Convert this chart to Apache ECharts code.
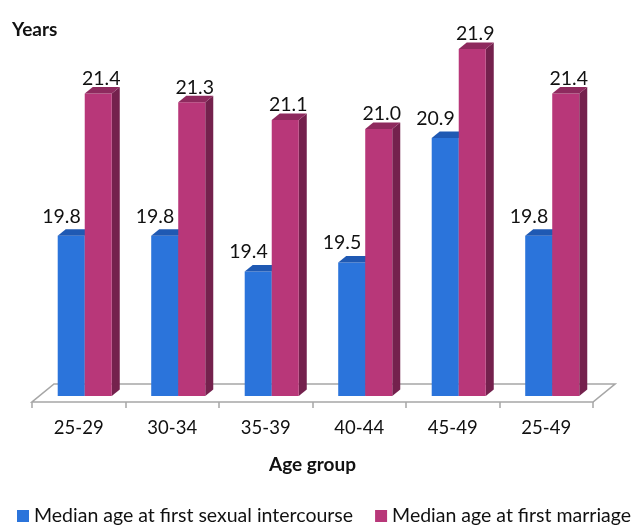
<!DOCTYPE html>
<html>
<head>
<meta charset="utf-8">
<script src="https://cdn.jsdelivr.net/npm/echarts@6/dist/echarts.min.js"></script>
<style>
  html, body { margin: 0; padding: 0; background: #fff; }
  #chart { width: 643px; height: 525px; }
</style>
</head>
<body>
<div id="chart"></div>
<script>
// Age groups and median ages (years)
const categories = ['25-29', '30-34', '35-39', '40-44', '45-49', '25-49'];
const firstIntercourse = [19.8, 19.8, 19.4, 19.5, 20.9, 19.8];
const firstMarriage = [21.4, 21.3, 21.1, 21.0, 21.9, 21.4];
const seriesNames = ['Median age at first sexual intercourse', 'Median age at first marriage'];

const FONT = 'Lato';
const BASE = 18;          // value axis floor
const DEPTH_X = 8, DEPTH_Y = 6.5;

const palette = [
  { front: '#2b74db', top: '#1f59b3', side: '#1a4a94' },
  { front: '#b83779', top: '#8e2a5e', side: '#74214d' }
];

// one 3D column: front face, right side, top, plus value label
function barRenderer(seriesIdx) {
  const c = palette[seriesIdx];
  return function (params, api) {
    const idx = api.value(0);
    const val = api.value(1);
    const top = api.coord([idx, val]);
    const bottom = api.coord([idx, BASE]);
    const band = api.size([1, 0])[0];
    const w = band * 0.289;
    const center = top[0] + band * 0.064;
    const x0 = seriesIdx === 0 ? center - w : center;
    const x1 = x0 + w;
    const yt = top[1], yb = bottom[1];
    const label = seriesIdx === 0
      ? { x: x1 - 4, y: yt - 19.5, align: 'right' }
      : { x: (x0 + x1) / 2 + 3, y: yt - 15, align: 'center' };
    return {
      type: 'group',
      children: [
        { type: 'polygon', shape: { points: [[x1, yt], [x1 + DEPTH_X, yt - DEPTH_Y], [x1 + DEPTH_X, yb - DEPTH_Y], [x1, yb]] },
          style: { fill: c.side } },
        { type: 'rect', shape: { x: x0, y: yt, width: w, height: yb - yt },
          style: { fill: c.front } },
        { type: 'polygon', shape: { points: [[x0, yt], [x0 + DEPTH_X, yt - DEPTH_Y], [x1 + DEPTH_X, yt - DEPTH_Y], [x1, yt]] },
          style: { fill: c.top } },
        { type: 'text', x: label.x, y: label.y,
          style: { text: val.toFixed(1), fill: '#111', fontSize: 19.5, fontFamily: FONT,
                   align: label.align, verticalAlign: 'middle' } }
      ]
    };
  };
}

// floor plane under the columns
function floorRenderer(params, api) {
  const band = api.size([1, 0])[0];
  const p0 = api.coord([0, BASE]);
  const pN = api.coord([categories.length - 1, BASE]);
  const left = p0[0] - band / 2;
  const right = pN[0] + band / 2;
  const yf = p0[1] + 6;
  const dx = 22, dy = 18;
  return {
    type: 'polygon',
    shape: { points: [[left, yf], [right, yf], [right + dx, yf - dy], [left + dx, yf - dy]] },
    style: { fill: '#ffffff', stroke: '#a6a6a6', lineWidth: 1.6 }
  };
}

const chart = echarts.init(document.getElementById('chart'), null, { renderer: 'canvas' });

chart.setOption({
  animation: false,
  backgroundColor: '#ffffff',
  textStyle: { fontFamily: FONT },
  title: {
    text: 'Years', left: 7, top: 15,
    textStyle: { fontSize: 19, fontWeight: 'bold', color: '#111', fontFamily: FONT }
  },
  legend: {
    left: 12, top: 501, width: 700, itemWidth: 12, itemHeight: 12, itemGap: 22,
    padding: 5,
    icon: 'rect',
    textStyle: { fontSize: 19.5, color: '#111', fontFamily: FONT },
    data: seriesNames
  },
  grid: { left: 32, right: 50, top: 40, bottom: 129 },
  xAxis: {
    type: 'category',
    data: categories,
    boundaryGap: true,
    offset: 6,
    axisLine: { show: false },
    axisTick: { show: true, length: 6, alignWithLabel: false, lineStyle: { color: '#a6a6a6', width: 1.5 } },
    axisLabel: { fontSize: 18.5, color: '#111', margin: 17, fontFamily: FONT },
    name: 'Age group',
    nameLocation: 'middle',
    nameGap: 53,
    nameTextStyle: { fontSize: 19, fontWeight: 'bold', color: '#111', fontFamily: FONT }
  },
  yAxis: {
    type: 'value', min: BASE, max: 22,
    show: false, splitLine: { show: false }
  },
  series: [
    { type: 'custom', name: 'floor', renderItem: floorRenderer, data: [[0, BASE]], silent: true, z: 1 },
    { type: 'custom', name: seriesNames[0], itemStyle: { color: palette[0].front },
      renderItem: barRenderer(0), data: firstIntercourse.map((v, i) => [i, v]), z: 2 },
    { type: 'custom', name: seriesNames[1], itemStyle: { color: palette[1].front },
      renderItem: barRenderer(1), data: firstMarriage.map((v, i) => [i, v]), z: 3 }
  ]
});
</script>
</body>
</html>
